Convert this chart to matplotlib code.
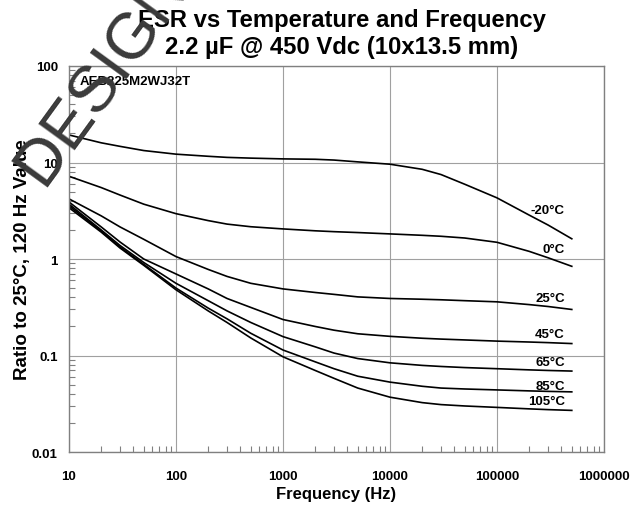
import matplotlib
matplotlib.use("Agg")
import matplotlib.pyplot as plt
from matplotlib.ticker import LogLocator, FixedLocator, FixedFormatter, NullFormatter

plt.rcParams['font.family'] = ['Liberation Sans', 'DejaVu Sans']

# frequency points (Hz)
freq = [10, 20, 30, 50, 100, 200, 300, 500, 1000, 2000, 3000, 5000,
        10000, 20000, 30000, 50000, 100000, 200000, 300000, 500000]

# ratio to 25 C / 120 Hz value
esr_m20 = [19.3, 16.0, 14.7, 13.3, 12.2, 11.6, 11.3, 11.1, 10.9, 10.8, 10.6, 10.15,
           9.6, 8.5, 7.5, 5.95, 4.3, 2.85, 2.25, 1.62]
esr_0 = [7.2, 5.5, 4.6, 3.7, 2.95, 2.5, 2.3, 2.16, 2.05, 1.96, 1.92, 1.88,
         1.82, 1.76, 1.72, 1.65, 1.49, 1.2, 1.03, 0.84]
esr_25 = [4.2, 2.8, 2.15, 1.6, 1.06, 0.78, 0.66, 0.56, 0.49, 0.45, 0.43, 0.405,
          0.39, 0.383, 0.378, 0.37, 0.36, 0.337, 0.322, 0.30]
esr_45 = [3.9, 2.15, 1.5, 1.0, 0.70, 0.49, 0.39, 0.315, 0.236, 0.20, 0.183, 0.168,
          0.158, 0.151, 0.148, 0.145, 0.141, 0.138, 0.136, 0.133]
esr_65 = [3.7, 2.0, 1.38, 0.92, 0.56, 0.37, 0.29, 0.22, 0.157, 0.123, 0.106, 0.093,
          0.084, 0.079, 0.077, 0.075, 0.073, 0.071, 0.070, 0.069]
esr_85 = [3.55, 1.95, 1.33, 0.88, 0.50, 0.31, 0.24, 0.17, 0.114, 0.086, 0.073, 0.061,
          0.053, 0.048, 0.046, 0.045, 0.044, 0.043, 0.0425, 0.042]
esr_105 = [3.4, 1.9, 1.3, 0.86, 0.48, 0.29, 0.22, 0.152, 0.097, 0.07, 0.058, 0.046,
           0.037, 0.0325, 0.031, 0.030, 0.029, 0.028, 0.0275, 0.027]

series = [esr_m20, esr_0, esr_25, esr_45, esr_65, esr_85, esr_105]
labels = ['-20°C', '0°C', '25°C', '45°C', '65°C', '85°C', '105°C']
label_y = [3.24, 1.27, 0.392, 0.167, 0.085, 0.048, 0.034]

x_ticks = [10, 100, 1000, 10000, 100000, 1000000]
x_ticklabels = ['10', '100', '1000', '10000', '100000', '1000000']
y_ticks = [0.01, 0.1, 1, 10, 100]
y_ticklabels = ['0.01', '0.1', '1', '10', '100']

fig = plt.figure(figsize=(6.44, 5.06), dpi=100)
ax = fig.add_axes([0.1071, 0.1047, 0.8308, 0.7629])

for s in series:
    ax.plot(freq, s, color='black', lw=1.2)

for lab, ly in zip(labels, label_y):
    ax.text(4.3e5, ly, lab, ha='right', va='center', fontsize=9.5, fontweight='bold')

ax.set_xscale('log')
ax.set_yscale('log')
ax.set_xlim(10, 1e6)
ax.set_ylim(0.01, 100)

ax.xaxis.set_major_locator(FixedLocator(x_ticks))
ax.xaxis.set_major_formatter(FixedFormatter(x_ticklabels))
ax.yaxis.set_major_locator(FixedLocator(y_ticks))
ax.yaxis.set_major_formatter(FixedFormatter(y_ticklabels))
ax.xaxis.set_minor_locator(LogLocator(base=10, subs=range(2, 10), numticks=20))
ax.yaxis.set_minor_locator(LogLocator(base=10, subs=range(2, 10), numticks=20))
ax.xaxis.set_minor_formatter(NullFormatter())
ax.yaxis.set_minor_formatter(NullFormatter())

ax.tick_params(which='major', length=0, labelsize=9.5)
ax.tick_params(axis='x', which='major', pad=13)
ax.tick_params(axis='y', which='major', pad=8)
ax.tick_params(which='minor', direction='in', length=4, color='#808080', width=0.8)
ax.tick_params(top=False, right=False, which='both')
for lab in ax.get_xticklabels() + ax.get_yticklabels():
    lab.set_fontweight('bold')

ax.grid(True, which='major', color='#a0a0a0', lw=0.8)
for sp in ax.spines.values():
    sp.set_color('#808080')
    sp.set_linewidth(1.0)

ax.set_xlabel('Frequency (Hz)', fontsize=12, fontweight='bold', labelpad=3)
ax.set_ylabel('Ratio to 25°C, 120 Hz Value', fontsize=13.5, fontweight='bold', labelpad=1)

ax.text(0.02, 0.96, 'AEB225M2WJ32T', transform=ax.transAxes, fontsize=9.5,
        fontweight='bold', ha='left', va='center')

fig.text(0.531, 0.960, 'ESR vs Temperature and Frequency', ha='center', va='center',
         fontsize=17.2, fontweight='bold')
fig.text(0.531, 0.907, '2.2 µF @ 450 Vdc (10x13.5 mm)', ha='center', va='center',
         fontsize=17.2, fontweight='bold')

# watermark
fig.text(0.160, 0.848, 'DESIGN', rotation=54, ha='center', va='center',
         rotation_mode='anchor', fontsize=47, color='#3a3a3a')

fig.savefig('out.png', dpi=100)
